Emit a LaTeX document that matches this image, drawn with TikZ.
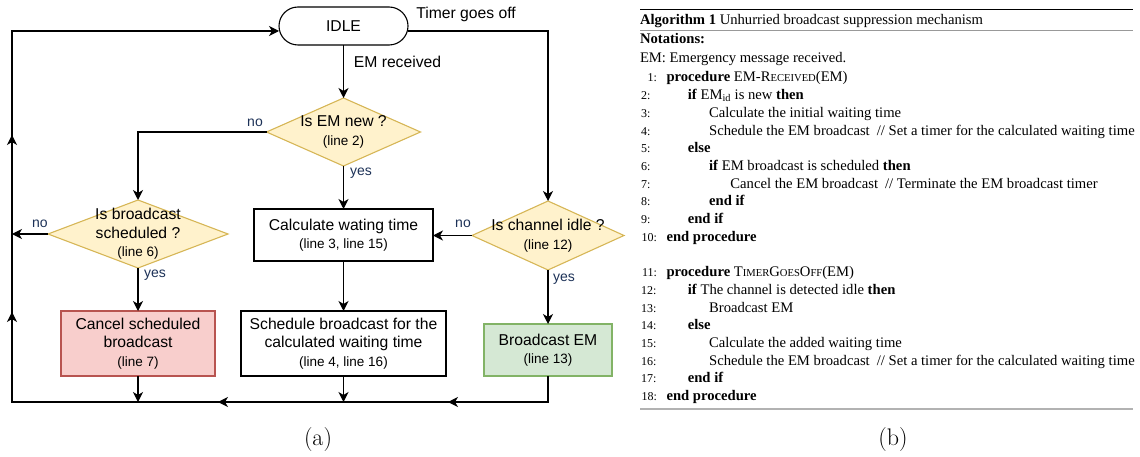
\documentclass[tikz,border=0pt]{standalone}
\usepackage{fontspec}
\newfontfamily\flowfont{Liberation Sans}
\newfontfamily\algfont{Liberation Serif}
\usetikzlibrary{arrows.meta,decorations.markings}

\definecolor{decfill}{HTML}{FFF2CC}
\definecolor{decline}{HTML}{D6B656}
\definecolor{redfill}{HTML}{F8CECC}
\definecolor{redline}{HTML}{B85450}
\definecolor{greenfill}{HTML}{D5E8D4}
\definecolor{greenline}{HTML}{82B366}
\definecolor{lblblue}{HTML}{1C3157}

\pgfdeclarelayer{background}
\pgfsetlayers{background,main}

% smaller capitals used to imitate small caps
\newcommand\fsc[1]{{\fontsize{10.6}{12}\selectfont #1}}
% reference to an algorithm line inside a flowchart shape
\newcommand\lineref[1]{{\fontsize{13.5}{18.5}\selectfont #1}}
% gap before a trailing comment
\newcommand\cmtgap{\hspace{7pt}}
% one numbered algorithm line: number, indent level, baseline, text
\newcommand\algln[4]{%
  \ifnum#2=0
    \node[lnum,anchor=base east] (n#1) at (657,#3) {#1:};
  \else
    \node[lnum,anchor=base west] (n#1) at (641,#3) {#1:};
  \fi
  \node[algtext] (l#1) at ({666.5+21.3*#2},#3) {#4};}

\begin{document}
\begin{tikzpicture}[x=1pt,y=-1pt,
  every node/.style={inner sep=0pt,outer sep=0pt},
  >={Stealth[length=10pt,width=10pt,inset=3pt]},
  flow/.style={font=\flowfont\fontsize{15.7}{18.5}\selectfont,align=center},
  box/.style 2 args={flow,draw=black,line width=1.1pt,minimum width=#1,minimum height=#2},
  decision/.style 2 args={flow,minimum width=#1,minimum height=#2},
  diamondline/.style={draw=decline,fill=decfill,line width=1.1pt},
  link/.style={line width=1.2pt,->},
  lbl/.style={font=\flowfont\fontsize{14}{16}\selectfont,text=lblblue},
  evt/.style={font=\flowfont\fontsize{15.7}{18}\selectfont},
  algtext/.style={font=\algfont\fontsize{14.65}{17.7}\selectfont,anchor=base west},
  lnum/.style={font=\algfont\fontsize{12}{14}\selectfont},
  sub/.style={font=\fontsize{24}{28}\selectfont}]
\useasboundingbox (0,0) rectangle (1140,457);

% ---------------- flowchart ----------------
\node[box={129pt}{38pt},rounded corners=19pt] (idle) at (343.5,26) {IDLE};

\node[decision={154pt}{68pt}] (dnew) at (343.5,132) {Is EM new ?\\\lineref{(line 2)}};
\node[decision={180pt}{68pt}] (dsched) at (138,234) {Is broadcast\\scheduled ?\\\lineref{(line 6)}};
\node[decision={152pt}{69pt}] (dch) at (548,235.5) {Is channel idle ?\\\lineref{(line 12)}};

\begin{pgfonlayer}{background}
  \foreach \d in {dnew,dsched,dch}
    \draw[diamondline] (\d.north) -- (\d.east) -- (\d.south) -- (\d.west) -- cycle;
\end{pgfonlayer}

\node[box={179pt}{52pt}] (calc) at (343.5,235) {Calculate wating time\\\lineref{(line 3, line 15)}};
\node[box={205pt}{65pt}] (sched) at (343.5,343.5) {Schedule broadcast for the\\calculated waiting time\\\lineref{(line 4, line 16)}};
\node[box={154pt}{65pt},draw=redline,fill=redfill] (cancel) at (138,343.5) {Cancel scheduled\\broadcast\\\lineref{(line 7)}};
\node[box={128pt}{52pt},draw=greenline,fill=greenfill] (bcast) at (548,350) {Broadcast EM\\\lineref{(line 13)}};

% corners of the return loop
\coordinate (tL) at (12,31);
\coordinate (tR) at (548,31);
\coordinate (bL) at (12,402);
\coordinate (bR) at (548,402);

% connectors
\draw[link] (idle.south) -- (dnew.north);
\draw[link] (dnew.south) -- (calc.north);
\draw[link] (calc.south) -- (sched.north);
\draw[link] (dnew.west) -| (dsched.north);
\draw[link] (dsched.south) -- (cancel.north);
\draw[link] (dsched.west) -- (dsched.west -| tL);
\draw[link] (idle.east |- tR) -- (tR) -- (dch.north);
\draw[link] (dch.west) -- (dch.west -| calc.east);
\draw[link] (dch.south) -- (bcast.north);
\draw[link] (cancel.south) -- (cancel.south |- bL);
\draw[link] (sched.south) -- (sched.south |- bL);
\draw[link,postaction={decorate},
  decoration={markings,
    mark=at position 126pt with {\arrow{>}},
    mark=at position 356pt with {\arrow{>}},
    mark=at position 652pt with {\arrow{>}},
    mark=at position 829pt with {\arrow{>}}}]
  (bcast.south) -- (bR) -- (bL) -- (tL) -- (tL -| idle.west);

% event and branch labels
\node[evt] (tgo) at (466,14) {Timer goes off};
\node[evt] (emr) at (397.5,62) {EM received};
\node[lbl] (no1) at (255,123) {no};
\node[lbl] (yes1) at (361,173) {yes};
\node[lbl] (no2) at (40,224) {no};
\node[lbl] (yes2) at (155,275) {yes};
\node[lbl] (no3) at (463,224) {no};
\node[lbl] (yes3) at (564,279) {yes};

\node[sub] (capa) at (318,440) {(a)};

% ---------------- algorithm ----------------
\draw[line width=1pt] (640,10) -- (1133,10);
\draw[line width=0.8pt,gray!80] (640,30) -- (1133,30);
\draw[line width=1.3pt,gray!60] (640,409) -- (1133,409);

\node[algtext] (cap) at (640,25) {\textbf{Algorithm 1} Unhurried broadcast suppression mechanism};
\node[algtext] (nota) at (640,44) {\textbf{Notations:}};
\node[algtext] (emdef) at (640,63) {EM: Emergency message received.};

\algln{1}{0}{82.0}{\textbf{procedure} EM-R\fsc{ECEIVED}(EM)}
\algln{2}{1}{99.7}{\textbf{if} EM\textsubscript{id} is new \textbf{then}}
\algln{3}{2}{117.4}{Calculate the initial waiting time}
\algln{4}{2}{135.1}{Schedule the EM broadcast\cmtgap// Set a timer for the calculated waiting time}
\algln{5}{1}{152.8}{\textbf{else}}
\algln{6}{2}{170.5}{\textbf{if} EM broadcast is scheduled \textbf{then}}
\algln{7}{3}{188.2}{Cancel the EM broadcast\cmtgap// Terminate the EM broadcast timer}
\algln{8}{2}{205.9}{\textbf{end if}}
\algln{9}{1}{223.6}{\textbf{end if}}
\algln{10}{0}{241.3}{\textbf{end procedure}}
\algln{11}{0}{276.7}{\textbf{procedure} T\fsc{IMER}G\fsc{OES}O\fsc{FF}(EM)}
\algln{12}{1}{294.4}{\textbf{if} The channel is detected idle \textbf{then}}
\algln{13}{2}{312.1}{Broadcast EM}
\algln{14}{1}{329.8}{\textbf{else}}
\algln{15}{2}{347.5}{Calculate the added waiting time}
\algln{16}{2}{365.2}{Schedule the EM broadcast\cmtgap// Set a timer for the calculated waiting time}
\algln{17}{1}{382.9}{\textbf{end if}}
\algln{18}{0}{400.6}{\textbf{end procedure}}

\node[sub] (capb) at (893,440) {(b)};
\end{tikzpicture}
\end{document}
